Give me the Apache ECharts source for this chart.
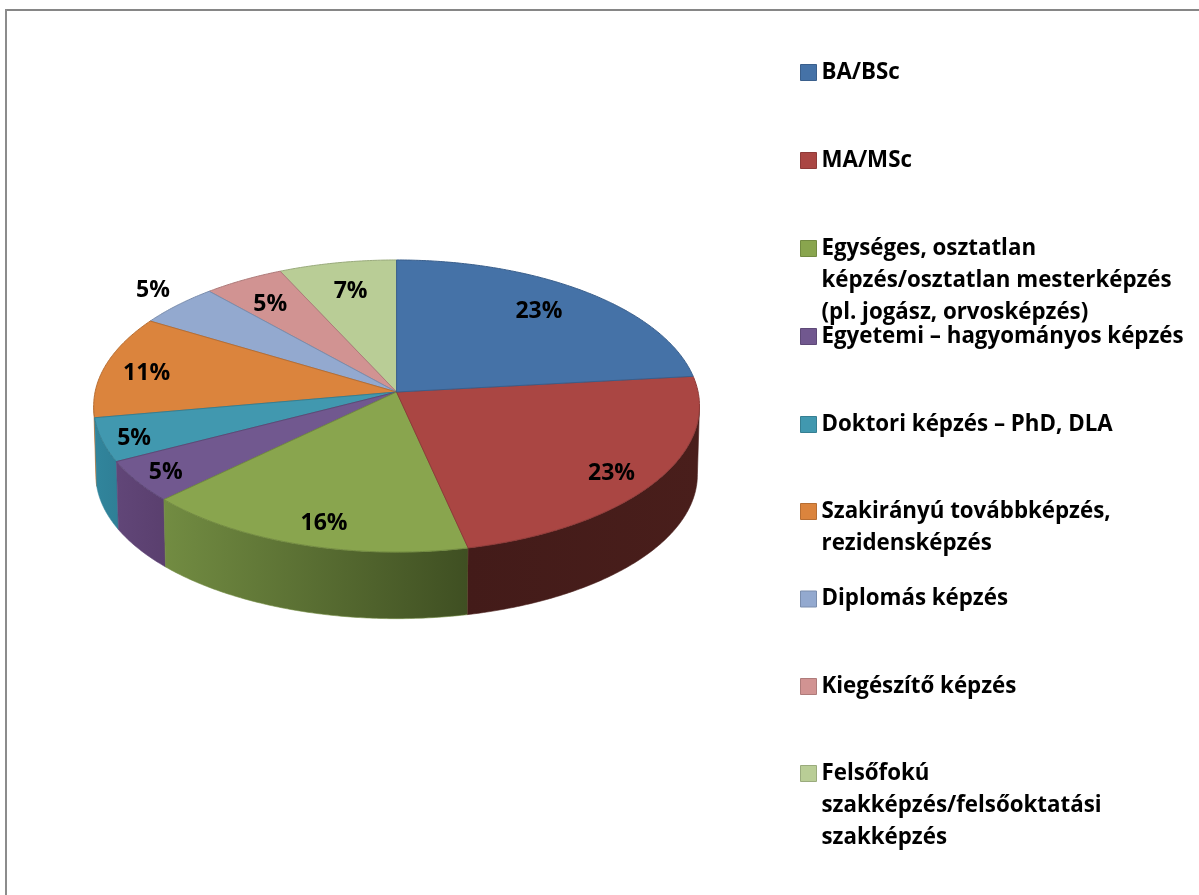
<!DOCTYPE html>
<html><head><meta charset="utf-8">
<style>html,body{margin:0;padding:0;background:#fff}#c{width:1199px;height:895px}</style>
<script src="https://cdn.jsdelivr.net/npm/echarts@6/dist/echarts.min.js"></script>
</head><body><div id="c"></div>
<script>
const categories = ['BA/BSc','MA/MSc','Egységes, osztatlan\nképzés/osztatlan mesterképzés\n(pl. jogász, orvosképzés)','Egyetemi – hagyományos képzés','Doktori képzés – PhD, DLA','Szakirányú továbbképzés,\nrezidensképzés','Diplomás képzés','Kiegészítő képzés','Felsőfokú\nszakképzés/felsőoktatási\nszakképzés'];
const values = [23.25,23.3,16.25,4.6,4.8,11.4,4.8,4.7,6.9];
const percentLabels = ['23%','23%','16%','5%','5%','11%','5%','5%','7%'];
const topColors = ['#4572a7','#aa4643','#89a54e','#71588f','#4198af','#db843d','#93a9cf','#d19392','#b9cd96'];
const borderColors = ['#3a5f8c','#8e3a38','#728a41','#5e4977','#367f92','#b76e33','#7a8dad','#ae7b7a','#9aab7d'];
const wallLeft = ['#3a5f8c','#491e1b','#728c42','#614678','#31859c','#c5742f','#7a8dad','#ae7b7a','#9aab7d'];
const wallRight = ['#2b4568','#431b19','#3f4f22','#5a3f6e','#2f7f96','#b86a2a','#7a8dad','#ae7b7a','#9aab7d'];
const labelRadius = [0.77,0.86,0.865,0.9,0.9,0.85,1.15,0.78,0.76];
const labelAngleShift = [-1.5,2.5,-2,-0.5,-1.5,-1.5,1.5,-1.5,0];
const legendCenters = [72.5,160.5,248.5,336.5,424.5,511.5,599,686.5,773.5];

const total = values.reduce((a,b)=>a+b,0);
const cx = 396.6, cy = 392, rx = 301.5, ry = 144.7, k = 0.096, wallH = 69, LH = 32;
const FONT = '"Open Sans"';
function project(angle, r, bottom){
  const u = r*Math.sin(angle), v = -r*Math.cos(angle), d = 1-k*v;
  const x = rx*u/d, y = ry*v/d;
  return bottom ? [cx+x*0.993, cy+y*0.985+wallH] : [cx+x, cy+y];
}
function arc(a0,a1,bottom){
  const pts=[], n=Math.max(2,Math.ceil((a1-a0)/0.01));
  for(let i=0;i<=n;i++) pts.push(project(a0+(a1-a0)*i/n,1,bottom));
  return pts;
}
const wallMin = 95.5*Math.PI/180, wallMax = 264.5*Math.PI/180;
function renderSlice(idx){
  return function(params, api){
    const val = api.value(0);
    let before = 0; for(let i=0;i<idx;i++) before+=values[i];
    const a0 = before/total*2*Math.PI, a1 = (before+val)/total*2*Math.PI;
    const children=[];
    const w0=Math.max(a0,wallMin), w1=Math.min(a1,wallMax);
    if(w1>w0){
      const pts = arc(w0,w1,false).concat(arc(w0,w1,true).reverse());
      const leftSide=(a0+a1)/2>Math.PI;
      children.push({type:'polygon',shape:{points:pts},z2:1,style:{
        fill:new echarts.graphic.LinearGradient(0,0,1,0,[
          {offset:0,color:leftSide?wallLeft[idx]:wallRight[idx]},
          {offset:1,color:leftSide?wallRight[idx]:wallLeft[idx]}]),
        stroke:wallLeft[idx],lineWidth:0.6}});
    }
    children.push({type:'polygon',shape:{points:[[cx,cy]].concat(arc(a0,a1,false))},z2:2,
      style:{fill:topColors[idx],stroke:borderColors[idx],lineWidth:1}});
    const mid=(a0+a1)/2+labelAngleShift[idx]*Math.PI/180, p=project(mid,labelRadius[idx],false);
    children.push({type:'text',z2:5,style:{text:percentLabels[idx],x:p[0],y:p[1],align:'center',verticalAlign:'middle',
      fill:'#000',font:'bold 23px '+FONT}});
    return {type:'group',children};
  };
}
const series = categories.map((name,i)=>({
  type:'custom',name,coordinateSystem:'none',z:10-i,silent:true,
  itemStyle:{color:topColors[i]},
  renderItem:renderSlice(i),
  data:[[values[i]]]
}));
const legend = categories.map((name,i)=>{
  const n = name.split('\n').length;
  return {
    data:[name],left:800,top:legendCenters[i]-(2*n-1)*LH/2,orient:'vertical',padding:0,
    itemWidth:16,itemHeight:16,selectedMode:false,icon:'rect',
    itemStyle:{borderColor:borderColors[i],borderWidth:1},
    formatter:s=>'\n'.repeat(n-1)+s,
    textStyle:{color:'#000',fontFamily:'Open Sans',fontWeight:'bold',fontSize:22.3,lineHeight:LH}
  };
});
const chart = echarts.init(document.getElementById('c'),null,{renderer:'canvas'});
chart.setOption({
  animation:false,backgroundColor:'#fff',
  legend,series,
  graphic:[
    {type:'rect',shape:{x:5,y:9,width:1194,height:2},style:{fill:'#868686'},silent:true},
    {type:'rect',shape:{x:5,y:9,width:2,height:886},style:{fill:'#8c8c8c'},silent:true}
  ]
});
</script></body></html>
